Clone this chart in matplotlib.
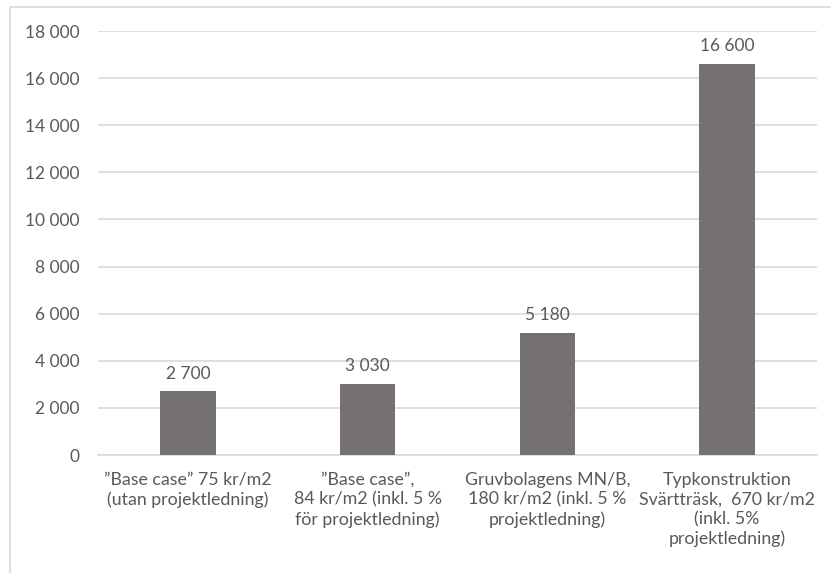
import matplotlib.pyplot as plt
from matplotlib.patches import Rectangle

# data
kategorier = [
    "”Base case” 75 kr/m2\n(utan projektledning)",
    "”Base case”,\n84 kr/m2 (inkl. 5 %\nför projektledning)",
    "Gruvbolagens MN/B,\n180 kr/m2 (inkl. 5 %\nprojektledning)",
    "Typkonstruktion\nSvärtträsk,  670 kr/m2\n(inkl. 5%\nprojektledning)",
]
varden = [2700, 3030, 5180, 16600]
yticks = [0, 2000, 4000, 6000, 8000, 10000, 12000, 14000, 16000, 18000]

textfarg = "#595959"
plt.rcParams["font.family"] = ["Lato", "DejaVu Sans"]

fig = plt.figure(figsize=(8.31, 5.73), dpi=100)
ax = fig.add_axes([98 / 831, 1 - 455 / 573, 719 / 831, 424 / 573])

# ram runt diagrammet
fig.patches.append(Rectangle((10 / 831, -0.1), 1.2, 1 - 7 / 573 + 0.1,
                             transform=fig.transFigure, fill=False,
                             edgecolor="#d9d9d9", linewidth=1.2))

x = range(len(varden))
staplar = ax.bar(x, varden, width=0.31, color="#767171", zorder=3)

for xi, v in zip(x, varden):
    ax.annotate(f"{v:,}".replace(",", " "), (xi, v), xytext=(0, 7),
                textcoords="offset points", ha="center", va="bottom",
                fontsize=12.5, color=textfarg)

ax.set_xlim(-0.5, len(varden) - 0.5)
ax.set_ylim(0, 18000)
ax.set_yticks(yticks)
ax.set_yticklabels([f"{t:,}".replace(",", " ") for t in yticks])
ax.set_xticks(list(x))
ax.set_xticklabels(kategorier, linespacing=1.28)
ax.tick_params(axis="y", length=0, pad=13, labelsize=12.5, labelcolor=textfarg)
ax.tick_params(axis="x", length=0, pad=12, labelsize=12.8, labelcolor=textfarg)
for lbl in ax.get_xticklabels():
    lbl.set_verticalalignment("top")

ax.grid(axis="y", color="#d9d9d9", linewidth=1.2, zorder=0)
for s in ["top", "right", "left"]:
    ax.spines[s].set_visible(False)
ax.spines["bottom"].set_color("#d9d9d9")
ax.spines["bottom"].set_linewidth(1.2)

fig.savefig("out.png", dpi=100)
